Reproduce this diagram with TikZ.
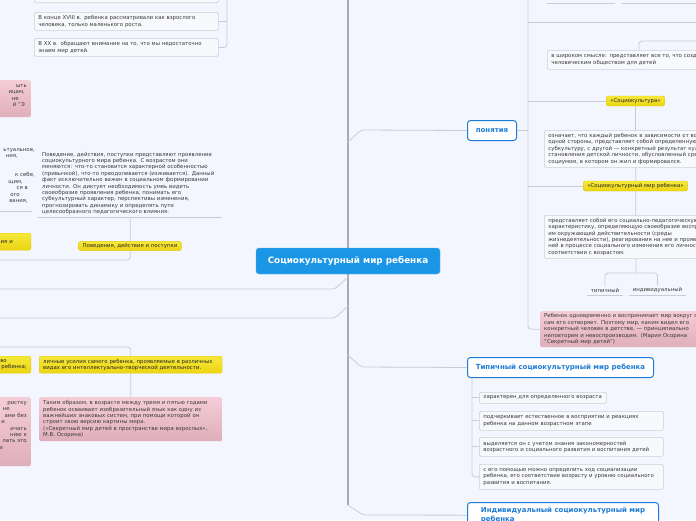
\documentclass[tikz,border=0pt]{standalone}
\usepackage{fontspec}
\setmainfont{DejaVu Sans}
\pgfdeclarelayer{background}
\pgfsetlayers{background,main}
\definecolor{bgc}{HTML}{F3F6FE}
\definecolor{boxfill}{HTML}{F8F9FD}
\definecolor{boxdraw}{HTML}{CDD0D8}
\definecolor{txt}{HTML}{3A3A3A}
\definecolor{connc}{HTML}{C9CCD4}
\definecolor{trunkc}{HTML}{ABABAB}
\definecolor{yelbot}{HTML}{EBD412}
\definecolor{yeltop}{HTML}{F7E93A}
\definecolor{yeldraw}{HTML}{E2CB10}
\definecolor{pinktop}{HTML}{F4CDD7}
\definecolor{pinkbot}{HTML}{DFAEBB}
\definecolor{mainblue}{HTML}{1B96E6}
\definecolor{topicblue}{HTML}{1E7BD6}
\newcommand{\padr}[1]{\hspace*{#1}\mbox{}}
\tikzset{
  small/.style={font=\fontsize{5.4}{6.4}\selectfont, text=txt},
  wbox/.style={small, draw=boxdraw, fill=boxfill, rounded corners=2pt, line width=0.7pt, align=left, inner xsep=4pt, inner ysep=2pt, anchor=north west},
  ybox/.style={small, text=black!85, draw=yeldraw, top color=yeltop, bottom color=yelbot, rounded corners=2pt, align=left, inner xsep=4pt, inner ysep=2pt},
  pbox/.style={small, top color=pinktop, bottom color=pinkbot, rounded corners=2pt, align=left, inner xsep=4pt, inner ysep=2pt},
  topic/.style={draw=topicblue, fill=white, line width=1pt, rounded corners=3pt, text=topicblue, font=\fontsize{7}{8.5}\selectfont\bfseries, inner xsep=6pt, anchor=north west},
  central/.style={fill=mainblue, draw=mainblue!70!white, rounded corners=3pt, text=white, font=\fontsize{8.8}{10}\selectfont\bfseries, minimum width=184pt, minimum height=26pt},
  conn/.style={draw=connc, line width=0.8pt, rounded corners=3pt},
  trunkline/.style={draw=trunkc, line width=2pt},
  plain/.style={small, align=left, inner xsep=4pt, inner ysep=2pt},
}
\begin{document}
\begin{tikzpicture}[x=1pt,y=-1pt]
\useasboundingbox (0,0) rectangle (696,520);
% ---------- central
\node[central] (main) at (348,261) {Социокультурный мир ребенка};
% ---------- left top group
\node[wbox, text width=176pt, minimum height=24pt, anchor=south west] (b0) at (34,3) {};
\node[wbox, text width=176pt, minimum height=18pt] (b1) at (34,12) {В конце XVIII в. ребенка рассматривали как взрослого\\человека, только маленького роста.};
\node[wbox, text width=176pt, minimum height=18pt] (b2) at (34,38) {В XX в. обращают внимание на то, что мы недостаточно\\знаем мир детей.};
\coordinate (lt0) at (227,0);
% ---------- left partial nodes
\node[pbox, anchor=north east, text width=52pt, align=right, minimum height=37pt] (p1) at (31,80) {ыть\\ицам,\padr{2pt}\\не\padr{8pt}\\й "Э\padr{2pt}\\\mbox{}};
\node[plain, anchor=south east, text width=60pt, align=right, inner xsep=1pt] (t1) at (36,211) {ьтуальное,\\ния,\padr{17pt}\\\mbox{}\\\mbox{}\\к себе,\\щим,\padr{12pt}\\ся в\padr{7pt}\\ого\padr{15pt}\\вания,\padr{7pt}\\\mbox{}};
\node[ybox, anchor=north east, text width=52pt, align=right, minimum height=17pt] (y1) at (31,233) {ния и\padr{14pt}};
\node[ybox, anchor=north east, text width=52pt, align=right, minimum height=17pt] (y3) at (31,356) {во\padr{20pt}\\ребенка;};
\node[pbox, anchor=north east, text width=52pt, align=right, minimum height=69pt] (p2) at (31,397) {ростку\\не\padr{17pt}\\ами без\\и\padr{22pt}\\ичать\\нию к\\лать это\\и\padr{24pt}\\\mbox{}\\\mbox{}};
% ---------- behaviour group
\node[plain, anchor=south west, text width=176pt] (t2) at (38,217) {Поведение, действия, поступки представляют проявление\\социокультурного мира ребенка. С возрастом они\\меняются: что-то становится характерной особенностью\\(привычкой), что-то преодолевается (изживается). Данный\\факт исключительно важен в социальном формировании\\личности. Он диктует необходимость умеь видеть\\своеобразие проявления ребенка, понимать его\\субкультурный характер, перспективы изменения,\\прогнозировать динамику и определять пути\\целесообразного педагогического влияния.};
\node[ybox] (y4) at (130,246) {Поведения, действия и поступки};
\coordinate (g1) at (0,260);
% ---------- lower left group
\node[ybox, anchor=north west, text width=175pt, minimum height=17pt] (y2) at (39,356) {личные усилия самого ребенка, проявляемые в различных\\видах его интеллектуально-творческой деятельности.};
\node[pbox, anchor=north west, text width=175pt, minimum height=44pt] (p3) at (39,397) {Таким образом, в возрасте между тремя и пятью годами\\ребенок осваивает изобразительный язык как одну из\\важнейших знаковых систем, при помощи которой он\\строит свою версию картины мира.\\(«Секретный мир детей в пространстве мира взрослых»,\\М.В. Осорина)};
\coordinate (g2) at (0,347);
% ---------- right: понятия
\node[topic, minimum width=49pt, minimum height=20pt] (pon) at (467,120) {понятия};
\coordinate (r0) at (528,0);
\coordinate (r22) at (528,22);
\coordinate (r22e) at (696,22);
\coordinate (u1a) at (547,3);
\coordinate (u1b) at (615,3);
\coordinate (u2a) at (622,3);
\coordinate (u2b) at (696,3);
\node[wbox, text width=200pt, minimum height=19pt] (wide) at (547,50) {в широком смысле: представляет все то, что создано\\человеческим обществом для детей};
\coordinate (w41) at (639,41);
\coordinate (w41e) at (696,41);
\node[ybox, minimum height=10pt] (socio) at (635.5,101) {«Социокультура»};
\node[wbox, text width=200pt, minimum height=37pt] (ozn) at (544,130) {означает, что каждый ребенок в зависимости от возраста, с\\одной стороны, представляет собой определенную\\субкультуру, с другой — конкретный результат культурного\\становления детской личности, обусловленный средой и\\социумом, в котором он жил и формировался.};
\node[ybox, minimum height=10pt] (smr) at (635.5,186) {«Социокультурный мир ребенка»};
\node[wbox, text width=200pt, minimum height=43pt] (pred) at (544,215) {представляет собой его социально-педагогическую\\характеристику, определяющую своеобразие восприятия\\им окружающей действительности (среды\\жизнедеятельности), реагирования на нее и проявления в\\ней в процессе социального изменения его личности в\\соответствии с возрастом.};
\coordinate (v273) at (636,273);
\node[plain, anchor=south] (tip) at (605,295) {типичный};
\node[plain, anchor=south] (ind) at (657.5,295) {индивидуальный};
\node[pbox, anchor=north west, text width=200pt, minimum height=36pt] (reb) at (540,311) {Ребенок одновременно и воспринимает мир вокруг себя, и\\сам его сотворяет. Поэтому мир, каким видел его\\конкретный человек в детстве, — принципиально\\неповторим и невоспроизводим. (Мария Осорина\\"Секретный мир детей")};
% ---------- right: типичный
\node[topic, minimum width=186pt, minimum height=20pt] (typ) at (467,357) {Типичный социокультурный мир ребенка};
\coordinate (tv) at (472,377);
\node[wbox, text width=119pt, minimum height=11pt] (c1) at (479,392) {характерен для определенного возраста};
\node[wbox, text width=176pt, minimum height=19pt] (c2) at (479,411) {подчеркивает естественное в восприятии и реакциях\\ребенка на данном возрастном этапе};
\node[wbox, text width=176pt, minimum height=19pt] (c3) at (479,437) {выделяется он с учетом знания закономерностей\\возрастного и социального развития и воспитания детей};
\node[wbox, text width=176pt, minimum height=25pt] (c4) at (479,464) {с его помощью можно определить ход социализации\\ребенка, его соответствие возрасту и уровню социального\\развития и воспитания.};
\node[topic, align=left, minimum width=191pt, inner xsep=7pt, inner ysep=5pt] (indiv) at (467,502) {Индивидуальный социокультурный мир\\ребенка};
% ---------- trunk coordinates
\coordinate (ctop) at (348,0);
\coordinate (cbot) at (348,505);
\coordinate (cbd) at (363,515);
\coordinate (l1a) at (348,277);
\coordinate (l1b) at (335,289);
\coordinate (l1c) at (0,289);
\coordinate (l2a) at (348,306);
\coordinate (l2b) at (335,318);
\coordinate (l2c) at (0,318);
\coordinate (pa) at (348,142);
\coordinate (pb) at (361,130);
\coordinate (ta) at (348,355);
\coordinate (tb) at (361,367);
\begin{pgfonlayer}{background}
\fill[bgc] (0,0) rectangle (696,520);
\draw[trunkline] (ctop) -- (cbot);
\draw[conn] (cbot) -- (cbd) -- (indiv.west);
\draw[conn] (l1a) -- (l1b) -- (l1c);
\draw[conn] (l2a) -- (l2b) -- (l2c);
\draw[conn] (pa) -- (pb) -- (pon.west);
\draw[conn] (ta) -- (tb) -- (typ.west);
% left top
\draw[conn] (lt0) |- (b2.east);
\draw[conn] (b1.east) -- (b1.east -| lt0);
% behaviour
\draw[conn] (t2.south west) -- (t2.south east);
\draw[conn] (t1.south west) -- ([xshift=-4pt]t1.south east);
\draw[conn] (t2.south) |- (g1);
% lower left
\draw[conn] (g2) -| (p3.north);
% right
\draw[conn] (pon.east) -- (pon.east -| r0);
\draw[conn] (r0) |- (reb.west);
\draw[conn] (r22) -- (r22e);
\draw[conn] (u1a) -- (u1b);
\draw[conn] (u2a) -- (u2b);
\draw[conn] (w41 |- wide.north) -- (w41) -- (w41e);
\draw[conn] (socio.west -| r0) -- (socio.west);
\draw[conn] (smr.west -| r0) -- (smr.west);
\draw[conn] (socio.south) -- (v273);
\draw[conn] (tip.north) -- (tip.north |- v273) -- (ind.north |- v273) -- (ind.north);
\draw[conn] (tip.south west) -- (tip.south east);
\draw[conn] (ind.south west) -- (ind.south east);
% typical children
\draw[conn] (tv) |- (c4.west);
\draw[conn] (c1.west -| tv) -- (c1.west);
\draw[conn] (c2.west -| tv) -- (c2.west);
\draw[conn] (c3.west -| tv) -- (c3.west);
\end{pgfonlayer}
\end{tikzpicture}
\end{document}
